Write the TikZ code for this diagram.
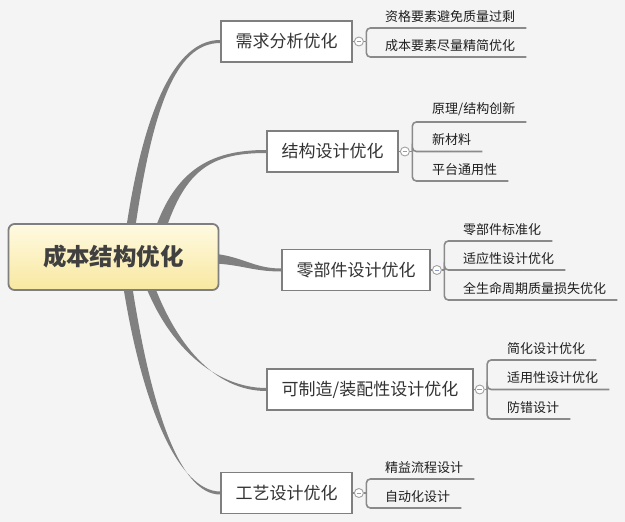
\documentclass[tikz,border=0pt]{standalone}
\usepackage{fontspec}
\newfontfamily\cjk{Noto Sans CJK SC}
\usetikzlibrary{calc,backgrounds}
\definecolor{bg}{HTML}{F4F4F4}
\definecolor{curvec}{HTML}{808080}
\definecolor{boxline}{HTML}{7F7F7F}
\definecolor{brc}{HTML}{8A8A8A}
\definecolor{rtop}{HTML}{FFFAE2}
\definecolor{rbot}{HTML}{F8E8A0}
\definecolor{roottext}{HTML}{404040}
\definecolor{maintext}{HTML}{333333}
\definecolor{leaftext}{HTML}{1E1E1E}
\definecolor{minusc}{HTML}{8C9BC8}
\newcommand\taperline[6]{\fill[curvec] ($(#1)+(#5)$) .. controls ($(#2)+(#5)$) and ($(#3)+(#6)$) .. ($(#4)+(#6)$) -- ($(#4)-(#6)$) .. controls ($(#3)-(#6)$) and ($(#2)-(#5)$) .. ($(#1)-(#5)$) -- cycle;}
\tikzset{
  rootbox/.style={draw=boxline, line width=1.8pt, rounded corners=6pt, top color=rtop, bottom color=rbot,
    minimum width=210pt, minimum height=66pt, font=\cjk\bfseries\fontsize{23.5}{28}\selectfont, text=roottext},
  mainbox/.style={draw=boxline, line width=1.8pt, fill=white, minimum height=41pt, inner xsep=14.5pt,
    font=\cjk\fontsize{17}{20}\selectfont, text=maintext},
  tog/.style={circle, draw=brc!80, line width=0.9pt, fill=white, minimum size=9pt, inner sep=0pt},
  br/.style={draw=brc, line width=1.6pt},
  brr/.style={draw=brc, line width=1.6pt, rounded corners=4pt},
  leaf/.style={anchor=south west, inner xsep=0pt, inner ysep=5.5pt, font=\cjk\fontsize{13}{16}\selectfont, text=leaftext},
  minus/.style={draw=minusc, line width=0.8pt}
}
\begin{document}
\begin{tikzpicture}[x=1pt,y=-1pt]
\useasboundingbox (0,0) rectangle (625,522);
% root and main nodes
\node[rootbox] (root) at (113.5,257) {成本结构优化};
\node[mainbox] (n1) at (286.5,41.5) {需求分析优化};
\node[mainbox] (n2) at (332.5,151.5) {结构设计优化};
\node[mainbox] (n3) at (356,270) {零部件设计优化};
\node[mainbox] (n4) at (370,389.5) {可制造/装配性设计优化};
\node[mainbox] (n5) at (286.5,493) {工艺设计优化};
% toggles
\foreach \i in {1,...,5}{
  \node[tog] (c\i) at ($(n\i.east)+(6,0)$) {};
  \draw[minus] ($(c\i)+(-2.3,0)$) -- ($(c\i)+(2.3,0)$);
  \coordinate (b\i) at ($(c\i.east)+(2.5,0)$);
}
% leaves
\node[leaf] (l11) at (385,28) {资格要素避免质量过剩};
\node[leaf] (l12) at (385,57) {成本要素尽量精简优化};
\node[leaf] (l21) at (432,122) {原理/结构创新};
\node[leaf] (l22) at (432,151.5) {新材料};
\node[leaf] (l23) at (432,181) {平台通用性};
\node[leaf] (l31) at (463,241) {零部件标准化};
\node[leaf] (l32) at (463,270) {适应性设计优化};
\node[leaf] (l33) at (463,300) {全生命周期质量损失优化};
\node[leaf] (l41) at (507,360) {简化设计优化};
\node[leaf] (l42) at (507,389.5) {适用性设计优化};
\node[leaf] (l43) at (507,419) {防错设计};
\node[leaf] (l51) at (385,479) {精益流程设计};
\node[leaf] (l52) at (385,508) {自动化设计};
% brackets
\foreach \i/\leaves in {1/{1,2},2/{1,2,3},3/{1,2,3},4/{1,2,3},5/{1,2}}{
  \draw[br] (n\i.east) -- (c\i.west);
  \draw[br] (c\i.east) -- (b\i);
  \foreach \j in \leaves{
    \draw[brr] (b\i) |- (l\i\j.south west) -- ($(l\i\j.south east)+(11,0)$);
  }
}
\begin{scope}[on background layer]
\fill[bg] (0,0) rectangle (625,522);
\coordinate (s1) at (129,240);
\coordinate (s2) at (157,240);
\coordinate (s3) at (200,258);
\coordinate (s4) at (146,275);
\coordinate (s5) at (126,275);
\taperline{s1}{147,110}{175,41.5}{n1.west}{4.5,0}{0,1.5}
\taperline{s2}{178,170}{210,151.5}{n2.west}{5.5,0}{0,1.5}
\taperline{s3}{240,258}{250,270}{n3.west}{0,5}{0,1.5}
\taperline{s4}{170,345}{215,389.5}{n4.west}{4.5,0}{0,1.5}
\taperline{s5}{146,410}{180,493}{n5.west}{4.5,0}{0,1.5}
\end{scope}
\end{tikzpicture}
\end{document}
